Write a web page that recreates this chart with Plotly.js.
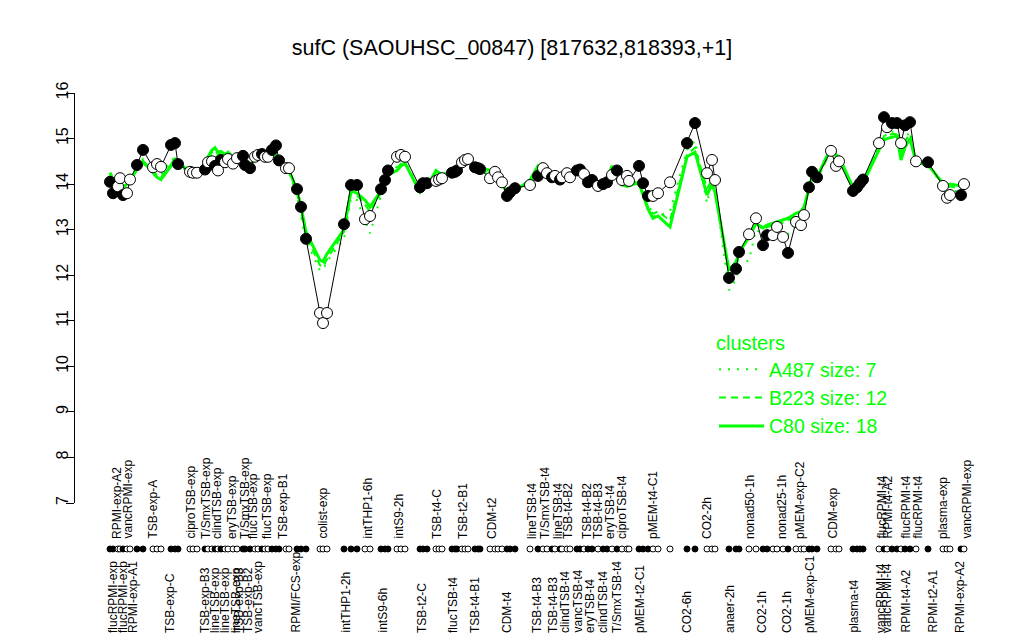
<!DOCTYPE html>
<html><head><meta charset="utf-8">
<script src="https://cdn.plot.ly/plotly-3.0.1.min.js"></script>
<style>html,body{margin:0;padding:0;background:#fff}#chart{width:1024px;height:640px}</style>
</head><body><div id="chart"></div>
<script>
// sample positions along the x axis (arbitrary position units)
const positions = [10,13,18,20,23,27,30,37,43,53,
57,61,71,75,78,90,93,97,105,108,
112,115,118,121,125,128,133,137,143,145,
150,155,158,162,165,168,172,176,179,186,
189,197,201,206,220,223,227,244,251,257,
265,270,281,285,288,297,301,305,320,323,
327,336,339,342,352,355,357,362,365,368,
375,378,380,390,395,398,402,407,410,415,
430,438,443,447,452,455,460,462,467,470,
477,480,484,488,492,498,503,507,512,517,
522,527,529,539,543,548,553,558,570,587,
595,607,612,615,629,636,639,649,656,663,
667,673,677,683,688,696,701,704,709,712,
717,731,736,739,753,757,760,763,779,784,
787,792,797,801,805,810,816,828,843,847,
850,861,864];
// 1 = filled point, 0 = open point
const filled = [1,1,0,0,1,0,0,1,1,0,
0,0,1,1,1,0,0,0,1,0,
0,1,0,1,0,0,0,0,1,1,
1,0,0,1,0,0,1,1,1,0,
0,1,1,1,0,0,0,1,1,1,
0,0,1,1,1,0,0,0,1,1,
1,0,0,0,1,1,1,0,0,0,
1,1,1,0,0,0,0,1,1,1,
0,1,0,0,1,0,1,0,0,0,
1,1,0,1,1,0,1,1,0,1,
0,0,0,1,1,1,0,0,0,1,
1,0,0,0,1,1,1,0,0,1,
1,0,0,0,1,0,0,0,1,1,
1,0,0,0,1,1,1,1,0,1,
0,1,1,0,1,1,0,1,0,0,
0,1,0];
const expression = [14.05,13.8,13.95,14.13,13.76,13.8,14.1,14.42,14.75,14.37,
14.44,14.38,14.86,14.9,14.44,14.27,14.25,14.25,14.32,14.48,
14.5,14.4,14.3,14.53,14.48,14.55,14.45,14.57,14.62,14.42,
14.35,14.6,14.64,14.66,14.6,14.6,14.75,14.85,14.52,14.35,
14.35,13.89,13.5,12.8,11.17,10.95,11.17,13.12,13.98,13.98,
13.23,13.3,13.89,14.09,14.3,14.6,14.64,14.6,13.93,14.02,
14.02,14.07,14.1,14.13,14.25,14.27,14.3,14.48,14.53,14.55,
14.37,14.35,14.33,14.13,14.27,14.15,14.04,13.74,13.82,13.91,
13.98,14.18,14.35,14.24,14.15,14.18,14.1,14.15,14.24,14.15,
14.3,14.32,14.22,14.04,14.09,13.96,14.0,14.04,14.2,14.3,
14.09,14.18,14.07,14.4,14.02,13.74,13.74,13.8,14.04,14.9,
15.34,14.24,14.53,14.09,11.94,12.14,12.51,12.9,13.25,12.66,
12.88,12.88,13.06,12.84,12.49,13.17,13.1,13.32,13.93,14.27,
14.15,14.73,14.4,14.5,13.85,13.93,14.02,14.1,14.9,15.47,
15.25,15.34,15.34,14.9,15.29,15.36,14.5,14.48,13.96,13.7,
13.76,13.76,14.0];
const clusterC80 = [14.25,14.1,14.0,13.95,13.93,14.0,14.05,14.35,14.5,14.25,
14.15,14.1,14.4,14.57,14.45,14.3,14.27,14.28,14.35,14.6,
14.75,14.8,14.7,14.72,14.65,14.7,14.6,14.65,14.55,14.45,
14.42,14.55,14.65,14.7,14.65,14.65,14.6,14.6,14.5,14.35,
14.3,13.87,13.5,12.95,12.33,12.3,12.47,13.0,13.86,13.8,
13.65,13.5,13.86,14.05,14.2,14.3,14.4,14.46,13.82,13.9,
13.95,14.3,14.25,14.2,14.28,14.3,14.35,14.55,14.53,14.5,
14.4,14.38,14.35,14.3,14.27,14.24,14.1,13.76,13.8,13.85,
14.09,14.4,14.35,14.27,14.2,14.15,14.09,14.1,14.15,14.09,
14.25,14.3,14.2,14.09,14.05,13.87,14.0,14.09,14.4,14.2,
13.98,13.95,13.98,14.02,13.76,13.45,13.25,13.3,13.06,14.6,
14.7,13.76,14.0,13.82,12.11,12.29,12.49,12.84,13.14,13.04,
13.1,13.14,13.17,13.21,13.25,13.36,13.4,13.5,13.93,14.15,
14.15,14.81,14.64,14.6,13.93,13.9,13.9,14.02,14.75,14.97,
15.0,15.03,15.06,14.53,14.81,15.0,14.48,14.42,14.02,13.98,
14.0,13.96,13.98];
const clusterB223 = [14.2,14.05,14.0,13.98,13.95,14.0,14.1,14.3,14.45,14.3,
14.2,14.15,14.45,14.55,14.4,14.28,14.25,14.27,14.32,14.55,
14.7,14.75,14.65,14.7,14.6,14.65,14.58,14.62,14.55,14.45,
14.4,14.55,14.6,14.65,14.6,14.6,14.62,14.65,14.5,14.35,
14.3,13.8,13.4,12.85,12.22,12.18,12.35,12.95,13.8,13.75,
13.55,13.4,13.8,14.0,14.2,14.35,14.45,14.45,13.85,13.92,
13.97,14.25,14.2,14.18,14.27,14.28,14.32,14.5,14.5,14.5,
14.38,14.35,14.32,14.25,14.25,14.2,14.05,13.8,13.82,13.87,
14.05,14.35,14.32,14.25,14.18,14.15,14.1,14.12,14.15,14.1,
14.25,14.28,14.18,14.07,14.05,13.9,14.0,14.07,14.35,14.22,
14.0,13.98,13.95,14.05,13.8,13.5,13.35,13.4,13.2,14.65,
14.8,13.9,14.1,13.9,12.0,12.2,12.4,12.85,13.15,13.0,
13.05,13.1,13.15,13.15,13.2,13.3,13.35,13.45,13.9,14.1,
14.1,14.75,14.55,14.55,13.9,13.92,13.95,14.05,14.8,15.05,
15.05,15.1,15.1,14.7,14.95,15.1,14.5,14.45,14.0,13.9,
13.95,13.9,13.95];
const clusterA487 = [14.1,14.0,13.95,14.0,13.9,13.95,14.1,14.3,14.55,14.3,
14.25,14.2,14.5,14.6,14.45,14.3,14.25,14.25,14.3,14.55,
14.6,14.65,14.55,14.6,14.55,14.6,14.5,14.6,14.6,14.45,
14.4,14.55,14.62,14.65,14.6,14.58,14.6,14.7,14.55,14.35,
14.25,13.75,13.3,12.75,12.1,12.12,12.3,12.8,13.7,13.65,
13.2,12.92,13.75,13.95,14.15,14.4,14.5,14.5,13.9,13.95,
14.0,14.2,14.18,14.15,14.25,14.27,14.3,14.5,14.55,14.52,
14.38,14.32,14.3,14.2,14.22,14.15,14.0,13.8,13.85,13.9,
14.0,14.3,14.5,14.27,14.15,14.17,14.12,14.15,14.2,14.12,
14.28,14.3,14.2,14.05,14.05,13.92,13.98,14.05,14.45,14.25,
14.0,14.05,13.95,14.1,13.85,13.6,13.3,13.3,13.4,14.75,
14.95,13.58,14.05,13.9,11.67,11.9,12.2,12.33,13.0,12.9,
13.0,13.0,13.05,13.0,12.9,13.2,13.25,13.4,13.95,14.2,
14.15,14.8,14.55,14.6,13.85,13.9,13.95,14.05,14.85,15.1,
15.05,15.15,15.15,14.8,15.0,15.15,14.45,14.45,13.95,13.85,
13.85,13.85,13.9];
const clusterNames = ["A487 size: 7", "B223 size: 12", "C80 size: 18"];
// sample labels (top and bottom rows) and the positions they sit at
const topLabelText = ["RPMI-exp-A2","vancRPMI-exp","TSB-exp-A","ciproTSB-exp","T/SmxTSB-exp","clindTSB-exp","eryTSB-exp","T/SmxTSB-exp","flucTSB-exp","flucTSB-exp","TSB-exp-B1",
"colist-exp","intTHP1-6h","intS9-2h","TSB-t4-C","TSB-t2-B1","CDM-t2","lineTSB-t4","T/SmxTSB-t4","lineTSB-t4","TSB-t4-B2","TSB-t4-B2","TSB-t4-B3","eryTSB-t4","ciproTSB-t4",
"pMEM-t4-C1","CO2-2h","nonad50-1h","nonad25-1h","pMEM-exp-C2","CDM-exp","flucRPMI-t4","RPMI-t4-A2","flucRPMI-t4","flucRPMI-t4","plasma-exp","vancRPMI-exp"];
const topLabelPos = [17,27,52,90,106,117,132,145,153,167,183,
222,267,298,337,363,392,432,445,458,468,487,498,510,522,
553,607,650,682,700,732,781,787,805,817,843,866];
const bottomLabelText = ["flucRPMI-exp","flucRPMI-exp","RPMI-exp-A1","TSB-exp-C","TSB-exp-B3","lineTSB-exp","lineTSB-exp","lineTSB-exp","TSB-exp-B3","TSB-exp-B2","vancTSB-exp","RPMI/FCS-exp",
"intTHP1-2h","intS9-6h","TSB-t2-C","flucTSB-t4","TSB-t4-B1","CDM-t4","TSB-t4-B3","TSB-t4-B3","clindTSB-t4","vancTSB-t4","eryTSB-t4","clindTSB-t4","T/SmxTSB-t4",
"pMEM-t2-C1","CO2-6h","anaer-2h","CO2-1h","CO2-1h","pMEM-exp-C1","plasma-t4","vancRPMI-t4","vancRPMI-t4","RPMI-t4-A2","RPMI-t2-A1","RPMI-exp-A2"];
const bottomLabelPos = [13,23,33,70,105,115,125,136,139,148,158,195,
245,282,322,353,375,407,437,453,465,477,490,503,517,
540,587,630,662,687,710,753,781,787,805,832,860];

const FONT = "Liberation Sans, Arial, Helvetica, sans-serif";
const GREEN = "#00ff00";
const fillColors = filled.map(f => f ? "#000000" : "#ffffff");

const traces = [
  {x: positions, y: clusterA487, type: "scatter", mode: "lines", name: clusterNames[0],
   line: {color: GREEN, width: 2, dash: "2px,7px"}, hoverinfo: "skip"},
  {x: positions, y: clusterB223, type: "scatter", mode: "lines", name: clusterNames[1],
   line: {color: GREEN, width: 2, dash: "7px,5px"}, hoverinfo: "skip"},
  {x: positions, y: clusterC80, type: "scatter", mode: "lines", name: clusterNames[2],
   line: {color: GREEN, width: 3}, hoverinfo: "skip"},
  {x: positions, y: expression, type: "scatter", mode: "lines+markers", showlegend: false,
   line: {color: "#000000", width: 1},
   marker: {size: 11, color: fillColors, line: {color: "#000000", width: 1}}},
  {x: positions, y: positions.map(() => 0), type: "scatter", mode: "markers", showlegend: false,
   xaxis: "x", yaxis: "y2",
   marker: {size: 6, color: fillColors, line: {color: "#000000", width: 1}}}
];

const annotations = [];
topLabelText.forEach((t, i) => annotations.push({
  text: t, x: topLabelPos[i], xref: "x", y: 1 - 541/640, yref: "paper",
  xanchor: "center", yanchor: "bottom", textangle: -90, showarrow: false,
  font: {family: FONT, size: 12, color: "#000"}
}));
bottomLabelText.forEach((t, i) => annotations.push({
  text: t, x: bottomLabelPos[i], xref: "x", y: 1 - 635/640, yref: "paper",
  xanchor: "center", yanchor: "bottom", textangle: -90, showarrow: false,
  font: {family: FONT, size: 12, color: "#000"}
}));

const layout = {
  width: 1024, height: 640,
  margin: {l: 0, r: 0, t: 0, b: 0},
  paper_bgcolor: "#ffffff", plot_bgcolor: "rgba(0,0,0,0)",
  font: {family: FONT, color: "#000"},
  title: {text: "sufC (SAOUHSC_00847) [817632,818393,+1]", x: 0.5, xanchor: "center",
          y: 1 - 47/640, yanchor: "middle", yref: "container",
          font: {family: FONT, size: 21.5, color: "#000"}},
  xaxis: {domain: [75/1024, 985/1024], range: [-25, 885], visible: false, fixedrange: true},
  yaxis: {domain: [1 - 503/640, 1 - 93/640], range: [7, 16], dtick: 1, tick0: 7,
          showline: true, linecolor: "#000", linewidth: 1, ticks: "outside", ticklen: 8,
          tickcolor: "#000", tickangle: -90, showgrid: false, zeroline: false,
          ticklabelstandoff: -8,
          tickfont: {family: FONT, size: 16, color: "#000"}},
  yaxis2: {domain: [0.1, 0.1844], range: [-1, 1], visible: false, anchor: "x"},
  showlegend: true,
  legend: {x: 714/1024, y: 1 - 324/640, xanchor: "left", yanchor: "top",
           bgcolor: "rgba(0,0,0,0)", traceorder: "normal", itemwidth: 45,
           title: {text: "clusters", font: {family: FONT, size: 20, color: GREEN}},
           font: {family: FONT, size: 19.5, color: GREEN}},
  annotations: annotations
};

Plotly.newPlot("chart", traces, layout, {staticPlot: true, displayModeBar: false});
</script></body></html>
